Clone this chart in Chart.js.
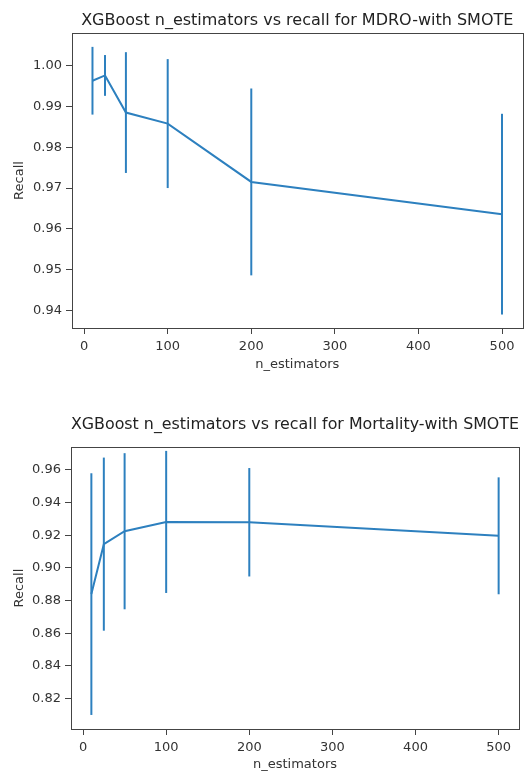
<!DOCTYPE html>
<html>
<head>
<meta charset="utf-8">
<script src="https://cdn.jsdelivr.net/npm/chart.js@4/dist/chart.umd.min.js"></script>
<style>
  html, body { margin: 0; padding: 0; background: #fff; }
  .box { position: absolute; left: 0; width: 525px; }
  #box1 { top: 0; height: 385px; }
  #box2 { top: 385px; height: 386px; }
</style>
</head>
<body>
<div class="box" id="box1"><canvas id="mdroChart"></canvas></div>
<div class="box" id="box2"><canvas id="mortChart"></canvas></div>
<script>
// n_estimators values tested
const nEstimators = [10, 25, 50, 100, 200, 500];

// MDRO recall: mean and error (std)
const mdroRecall = [0.9963, 0.9976, 0.9885, 0.9858, 0.9715, 0.9636];
const mdroErr    = [0.0083, 0.0050, 0.0148, 0.0158, 0.0229, 0.0246];

// Mortality recall: mean and error (std)
const mortRecall = [0.8840, 0.9146, 0.9225, 0.9282, 0.9280, 0.9197];
const mortErr    = [0.0740, 0.0530, 0.0478, 0.0435, 0.0332, 0.0358];

const xTicks = [0, 100, 200, 300, 400, 500];

const BLUE = '#2d80bf';
const INK = '#333';
const FONT = 'DejaVu Sans';

// Zeichnet die Fehlerbalken über die Skalen der Chart-Instanz
const errorBarPlugin = {
  id: 'errorBars',
  afterDatasetsDraw(chart, args, opts) {
    const {ctx, scales: {x, y}} = chart;
    ctx.save();
    ctx.strokeStyle = BLUE;
    ctx.lineWidth = 2;
    opts.means.forEach((m, i) => {
      const px = x.getPixelForValue(opts.xs[i]);
      ctx.beginPath();
      ctx.moveTo(px, y.getPixelForValue(m - opts.errs[i]));
      ctx.lineTo(px, y.getPixelForValue(m + opts.errs[i]));
      ctx.stroke();
    });
    ctx.restore();
  }
};

// Rahmen um den Plotbereich (wie matplotlib-Spines)
const framePlugin = {
  id: 'frame',
  afterDraw(chart) {
    const {ctx, chartArea: a} = chart;
    ctx.save();
    ctx.strokeStyle = '#444';
    ctx.lineWidth = 1;
    ctx.strokeRect(Math.round(a.left) + 0.5, Math.round(a.top) + 0.5,
      Math.round(a.right - a.left), Math.round(a.bottom - a.top));
    ctx.restore();
  }
};

function createErrorChart(canvasId, cfg) {
  const ctx = document.getElementById(canvasId).getContext('2d');
  return new Chart(ctx, {
    type: 'line',
    data: {
      datasets: [{
        data: nEstimators.map((n, i) => ({x: n, y: cfg.means[i]})),
        borderColor: BLUE,
        borderWidth: 2,
        pointRadius: 0,
        tension: 0,
        fill: false
      }]
    },
    options: {
      responsive: true,
      maintainAspectRatio: false,
      animation: false,
      layout: { padding: { top: 0, right: cfg.padRight, bottom: 0, left: 0 } },
      plugins: {
        legend: { display: false },
        tooltip: { enabled: false },
        title: {
          display: true,
          text: cfg.title,
          fullSize: false,
          color: '#222',
          font: { family: FONT, size: 16, weight: 'normal', lineHeight: 1.2 },
          padding: cfg.titlePad
        },
        errorBars: { xs: nEstimators, means: cfg.means, errs: cfg.errs }
      },
      scales: {
        x: {
          type: 'linear',
          min: -14.5,
          max: 524.5,
          afterFit: s => { s.height = cfg.xAxisHeight; },
          afterBuildTicks: s => { s.ticks = xTicks.map(v => ({value: v})); },
          ticks: {
            color: INK, padding: 5, autoSkip: false, maxRotation: 0,
            font: { family: FONT, size: 13 },
            callback: v => String(v)
          },
          grid: { drawOnChartArea: false, drawTicks: true, tickLength: 6, color: '#444' },
          border: { display: true, color: '#444' },
          title: {
            display: true, text: 'n_estimators', color: INK,
            font: { family: FONT, size: 13, lineHeight: 1.0 },
            padding: { top: 0, bottom: cfg.xTitlePad }
          }
        },
        y: {
          min: cfg.yMin,
          max: cfg.yMax,
          afterFit: s => { s.width = cfg.yAxisWidth; },
          afterBuildTicks: s => { s.ticks = cfg.yTicks.map(v => ({value: v})); },
          ticks: {
            color: INK, padding: 4, autoSkip: false,
            font: { family: FONT, size: 13 },
            callback: v => v.toFixed(2)
          },
          grid: { drawOnChartArea: false, drawTicks: true, tickLength: 6, color: '#444' },
          border: { display: true, color: '#444' },
          title: {
            display: true, text: 'Recall', color: INK,
            font: { family: FONT, size: 13, lineHeight: 1.2 },
            padding: { top: 12, bottom: 0 }
          }
        }
      }
    },
    plugins: [errorBarPlugin, framePlugin]
  });
}

createErrorChart('mdroChart', {
  title: 'XGBoost n_estimators vs recall for MDRO-with SMOTE',
  means: mdroRecall,
  errs: mdroErr,
  yMin: 0.9357,
  yMax: 1.0080,
  yTicks: [0.94, 0.95, 0.96, 0.97, 0.98, 0.99, 1.00],
  titlePad: { top: 11, bottom: 2.8 },
  padRight: 2.5,
  yAxisWidth: 72,
  xAxisHeight: 57,
  xTitlePad: 14
});

createErrorChart('mortChart', {
  title: 'XGBoost n_estimators vs recall for Mortality-with SMOTE',
  means: mortRecall,
  errs: mortErr,
  yMin: 0.8014,
  yMax: 0.9739,
  yTicks: [0.82, 0.84, 0.86, 0.88, 0.90, 0.92, 0.94, 0.96],
  titlePad: { top: 30, bottom: 13.1 },
  padRight: 6,
  yAxisWidth: 71,
  xAxisHeight: 42,
  xTitlePad: 0
});
</script>
</body>
</html>
